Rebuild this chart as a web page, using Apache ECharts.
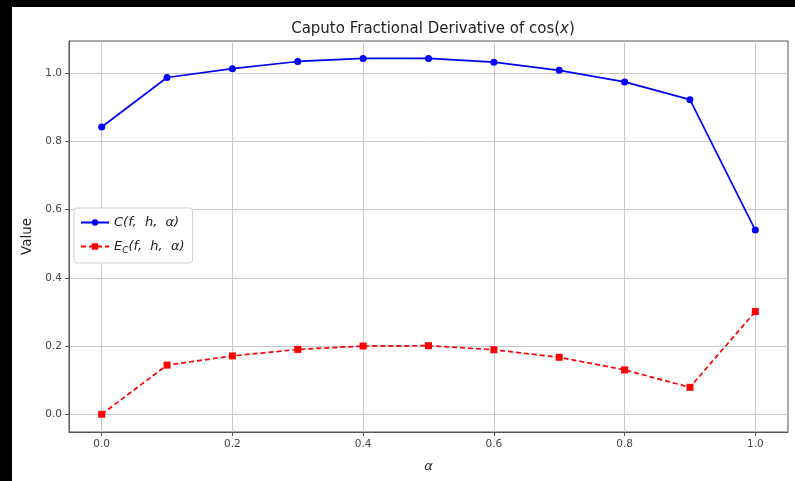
<!DOCTYPE html>
<html>
<head>
<meta charset="utf-8">
<script src="https://cdn.jsdelivr.net/npm/echarts@6/dist/echarts.min.js"></script>
<style>
html,body{margin:0;padding:0;background:#fff;}
#chart{width:795px;height:481px;}
</style>
</head>
<body>
<div id="chart"></div>
<script>
const alphas = [0.0, 0.1, 0.2, 0.3, 0.4, 0.5, 0.6, 0.7, 0.8, 0.9, 1.0];
const cValues = [0.842, 0.987, 1.013, 1.034, 1.043, 1.043, 1.032, 1.008, 0.974, 0.922, 0.540];
const eValues = [0.000, 0.144, 0.171, 0.190, 0.200, 0.201, 0.189, 0.167, 0.130, 0.079, 0.301];
const xTicks = [0.0, 0.2, 0.4, 0.6, 0.8, 1.0];
const yTicks = [0.0, 0.2, 0.4, 0.6, 0.8, 1.0];

const chart = echarts.init(document.getElementById('chart'));
const font = 'DejaVu Sans';
const fmt1 = v => v.toFixed(1);

chart.setOption({
  animation: false,
  backgroundColor: '#fff',
  title: {
    text: 'Caputo Fractional Derivative of cos({i|x})',
    left: 428, top: 17, textAlign: 'center',
    textStyle: {
      fontFamily: font, fontSize: 15, fontWeight: 'normal', color: '#222',
      rich: { i: { fontFamily: font, fontSize: 15, fontStyle: 'italic', color: '#222' } }
    }
  },
  graphic: [
    { type: 'rect', left: 0, top: 0, shape: { width: 12, height: 481 }, style: { fill: '#000' }, z: 100 },
    { type: 'rect', left: 0, top: 0, shape: { width: 795, height: 7 }, style: { fill: '#000' }, z: 100 }
  ],
  grid: {
    left: 69, right: 7, top: 41, bottom: 49,
    show: true, borderColor: '#555', borderWidth: 1, backgroundColor: 'transparent'
  },
  legend: {
    left: 74, top: 208, orient: 'vertical',
    itemWidth: 28, itemHeight: 8, itemGap: 11,
    padding: [8, 8, 8, 6],
    backgroundColor: '#fff', borderColor: '#d0d0d0', borderWidth: 1, borderRadius: 3,
    data: ['C', 'E'],
    formatter: function (name) {
      if (name === 'C') return '{i|C(f,  h,  α)}';
      return '{i|E}{s|C}{i|(f,  h,  α)}';
    },
    textStyle: {
      fontFamily: font, fontSize: 13, color: '#222',
      rich: {
        i: { fontFamily: font, fontSize: 13, fontStyle: 'italic', color: '#222', lineHeight: 17 },
        s: { fontFamily: font, fontSize: 9, fontStyle: 'italic', color: '#222', verticalAlign: 'bottom', lineHeight: 17 }
      }
    }
  },
  xAxis: {
    type: 'value', min: -0.05, max: 1.05, interval: 0.2,
    name: 'α', nameLocation: 'middle', nameGap: 28,
    nameTextStyle: { fontFamily: font, fontSize: 13, fontStyle: 'italic', color: '#222' },
    axisLine: { show: true, onZero: false, lineStyle: { color: '#555' } },
    axisTick: { show: true, length: 4, lineStyle: { color: '#555' }, customValues: xTicks },
    axisLabel: { fontFamily: font, fontSize: 10.5, color: '#444', margin: 7, formatter: fmt1, customValues: xTicks },
    splitLine: { show: true, lineStyle: { color: '#c8c8c8', width: 1 } }
  },
  yAxis: {
    type: 'value', min: -0.052, max: 1.094, interval: 0.2,
    name: 'Value', nameLocation: 'middle', nameGap: 33,
    nameTextStyle: { fontFamily: font, fontSize: 13.5, color: '#222' },
    axisLine: { show: true, onZero: false, lineStyle: { color: '#555' } },
    axisTick: { show: true, length: 4, lineStyle: { color: '#555' }, customValues: yTicks },
    axisLabel: { fontFamily: font, fontSize: 10.5, color: '#444', margin: 7, formatter: fmt1, customValues: yTicks },
    splitLine: { show: true, lineStyle: { color: '#c8c8c8', width: 1 } }
  },
  series: [
    {
      name: 'C', type: 'line',
      data: alphas.map((a, i) => [a, cValues[i]]),
      symbol: 'circle', symbolSize: 7,
      itemStyle: { color: '#0000ff' },
      lineStyle: { color: '#0000ff', width: 1.7 },
      z: 3
    },
    {
      name: 'E', type: 'line',
      data: alphas.map((a, i) => [a, eValues[i]]),
      symbol: 'rect', symbolSize: 7,
      itemStyle: { color: '#ff0000' },
      lineStyle: { color: '#ff0000', width: 1.7, type: [5, 3] },
      z: 3
    }
  ]
});
</script>
</body>
</html>
